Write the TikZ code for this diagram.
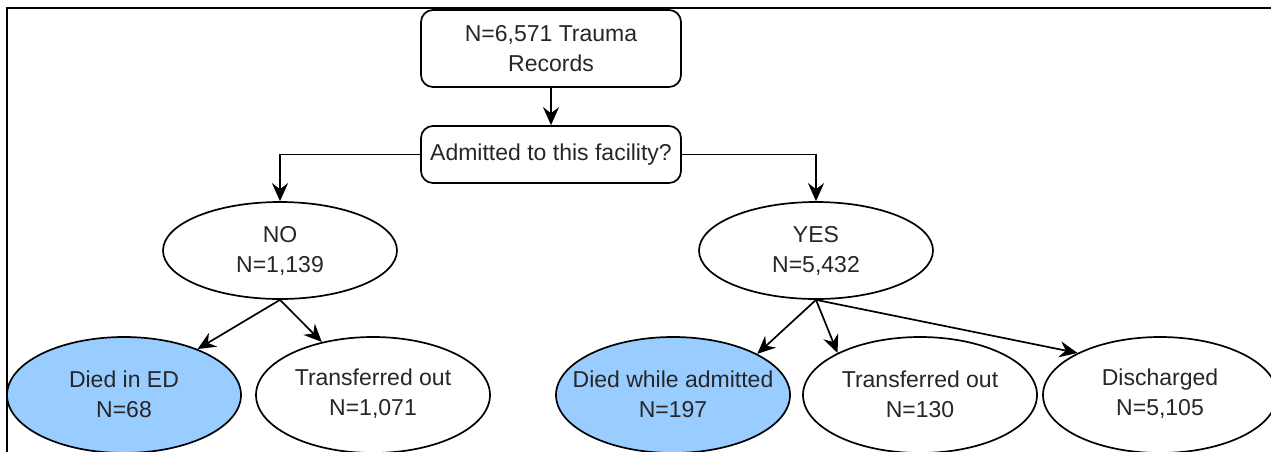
\documentclass[tikz,border=0pt]{standalone}
\usepackage{fontspec}
\setmainfont{Liberation Sans}
\usetikzlibrary{shapes.geometric,arrows.meta}
\definecolor{dieblue}{RGB}{153,204,255}
\tikzset{
  x=1pt, y=-1pt,
  base/.style={draw=black, line width=1.7pt},
  rbox/.style={base, rectangle, rounded corners=12pt, minimum width=260pt, inner sep=0pt, fill=white},
  ell/.style={base, ellipse, minimum width=234pt, inner sep=0pt, fill=white},
  topell/.style={ell, minimum height=97pt},
  botell/.style={ell, minimum height=116pt},
  died/.style={fill=dieblue},
  txt/.style={align=center, font=\fontsize{23}{30}\selectfont, inner sep=0pt, text=black!85},
  conn/.style={line width=1.7pt, -{Stealth[length=18pt,width=16pt,inset=6pt]}},
}
\begin{document}
\begin{tikzpicture}
\clip (0,0) rectangle (1271,451);
\fill[white] (0,0) rectangle (1271,451);
\draw[line width=2.6pt] (7,452) -- (7,8) -- (1272,8);

\node[rbox, minimum height=77pt] (top) at (551,48.5) {};
\node[txt] (toptxt) at (top) {N=6,571 Trauma\\Records};
\node[rbox, minimum height=57pt] (dec) at (551,154.5) {};
\node[txt] (dectxt) at (dec) {Admitted to this facility?};

\node[topell] (no) at (280,250.5) {};
\node[txt] (notxt) at (no) {NO\\N=1,139};
\node[topell] (yes) at (816,250.5) {};
\node[txt] (yestxt) at (yes) {YES\\N=5,432};

\node[botell, died] (ded) at (124,395) {};
\node[txt] (dedtxt) at (124,394) {Died in ED\\N=68};
\node[botell] (trl) at (373,395) {};
\node[txt] (trltxt) at (373,394) {Transferred out\\N=1,071};
\node[botell, died] (dwa) at (673,395) {};
\node[txt] (dwatxt) at (673,394) {Died while admitted\\N=197};
\node[botell] (trr) at (920,395) {};
\node[txt] (trrtxt) at (920,394) {Transferred out\\N=130};
\node[botell] (dis) at (1160,395) {};
\node[txt] (distxt) at (1160,394) {Discharged\\N=5,105};

\draw[conn] (top.south) -- (dec.north);
\draw[conn] (dec.west) -| (no.north);
\draw[conn] (dec.east) -| (yes.north);
\draw[conn] (no.south) -- (ded.32);
\draw[conn] (no.south) -- (trl.134);
\draw[conn] (yes.south) -- (dwa.26);
\draw[conn] (yes.south) -- (trr.153);
\draw[conn] (yes.south) -- (dis.153);
\end{tikzpicture}
\end{document}
